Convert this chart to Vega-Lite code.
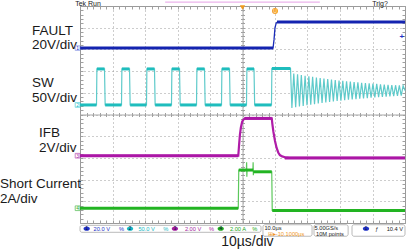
{
"$schema": "https://vega.github.io/schema/vega-lite/v6.json",
"width": 325, "height": 217, "autosize": "none",
"padding": {"left": 80, "top": 6, "right": 1, "bottom": 27},
"background": "white",
"config": {"view": {"stroke": "#9a9a9a", "strokeWidth": 1}},
"datasets": {
"fault": [{"x":0,"y":8.06},{"x":5.94,"y":8.06},{"x":5.97,"y":8.45},{"x":6.0,"y":9.0},{"x":6.04,"y":9.22},{"x":6.08,"y":9.26},{"x":10,"y":9.26}],
"faultFlat": [{"x":0,"x2":5.94,"y":8.06},{"x":6.06,"x2":10,"y":9.26}],
"sw": [{"x":0,"y":5.44},
{"x":0.508,"y":5.44},{"x":0.52,"y":7.10},{"x":0.754,"y":7.10},{"x":0.774,"y":5.44},
{"x":1.277,"y":5.44},{"x":1.289,"y":7.10},{"x":1.523,"y":7.10},{"x":1.543,"y":5.44},
{"x":2.046,"y":5.44},{"x":2.058,"y":7.10},{"x":2.292,"y":7.10},{"x":2.312,"y":5.44},
{"x":2.815,"y":5.44},{"x":2.827,"y":7.10},{"x":3.062,"y":7.10},{"x":3.082,"y":5.44},
{"x":3.585,"y":5.44},{"x":3.597,"y":7.10},{"x":3.831,"y":7.10},{"x":3.851,"y":5.44},
{"x":4.354,"y":5.44},{"x":4.366,"y":7.10},{"x":4.600,"y":7.10},{"x":4.620,"y":5.44},
{"x":5.123,"y":5.44},{"x":5.135,"y":7.10},{"x":5.354,"y":7.10},{"x":5.374,"y":5.44},
{"x":5.892,"y":5.44},{"x":5.904,"y":7.12},{"x":6.477,"y":7.12},
{"x":6.520,"y":5.300},{"x":6.578,"y":6.883},{"x":6.636,"y":5.333},{"x":6.694,"y":6.851},{"x":6.752,"y":5.365},{"x":6.810,"y":6.819},{"x":6.868,"y":5.396},{"x":6.926,"y":6.789},{"x":6.984,"y":5.425},{"x":7.042,"y":6.761},
{"x":7.100,"y":5.453},{"x":7.158,"y":6.733},{"x":7.216,"y":5.480},{"x":7.274,"y":6.707},{"x":7.332,"y":5.506},{"x":7.390,"y":6.682},{"x":7.448,"y":5.530},{"x":7.506,"y":6.658},{"x":7.564,"y":5.554},{"x":7.622,"y":6.634},
{"x":7.680,"y":5.577},{"x":7.738,"y":6.612},{"x":7.796,"y":5.599},{"x":7.854,"y":6.591},{"x":7.912,"y":5.620},{"x":7.970,"y":6.570},{"x":8.028,"y":5.640},{"x":8.086,"y":6.551},{"x":8.144,"y":5.659},{"x":8.202,"y":6.532},
{"x":8.260,"y":5.677},{"x":8.318,"y":6.514},{"x":8.376,"y":5.695},{"x":8.434,"y":6.497},{"x":8.492,"y":5.711},{"x":8.550,"y":6.480},{"x":8.608,"y":5.728},{"x":8.666,"y":6.465},{"x":8.724,"y":5.743},{"x":8.782,"y":6.450},
{"x":8.840,"y":5.758},{"x":8.898,"y":6.435},{"x":8.956,"y":5.772},{"x":9.014,"y":6.421},{"x":9.072,"y":5.785},{"x":9.130,"y":6.408},{"x":9.188,"y":5.798},{"x":9.246,"y":6.395},{"x":9.304,"y":5.811},{"x":9.362,"y":6.383},
{"x":9.420,"y":5.823},{"x":9.478,"y":6.371},{"x":9.536,"y":5.834},{"x":9.594,"y":6.360},{"x":9.652,"y":5.845},{"x":9.710,"y":6.349},{"x":9.768,"y":5.856},{"x":9.826,"y":6.339},{"x":9.884,"y":5.866},{"x":9.942,"y":6.329},{"x":10.0,"y":6.1}],
"swFlat": [{"x":0,"x2":0.508,"y":5.44},{"x":0.774,"x2":1.277,"y":5.44},{"x":1.543,"x2":2.046,"y":5.44},{"x":2.312,"x2":2.815,"y":5.44},{"x":3.082,"x2":3.585,"y":5.44},{"x":3.851,"x2":4.354,"y":5.44},{"x":4.62,"x2":5.123,"y":5.44},{"x":5.374,"x2":5.892,"y":5.44},
{"x":0.52,"x2":0.754,"y":7.10},{"x":1.289,"x2":1.523,"y":7.10},{"x":2.058,"x2":2.292,"y":7.10},{"x":2.827,"x2":3.062,"y":7.10},{"x":3.597,"x2":3.831,"y":7.10},{"x":4.366,"x2":4.6,"y":7.10},{"x":5.135,"x2":5.354,"y":7.10},{"x":5.904,"x2":6.477,"y":7.12}],
"ifb": [{"x":0,"y":3.10},{"x":4.87,"y":3.10},{"x":4.895,"y":3.6},{"x":4.92,"y":4.06},{"x":4.95,"y":4.4},{"x":4.99,"y":4.67},{"x":5.03,"y":4.77},{"x":5.08,"y":4.82},{"x":5.90,"y":4.82},{"x":5.92,"y":4.55},{"x":5.95,"y":4.21},{"x":6.0,"y":3.78},{"x":6.05,"y":3.46},{"x":6.1,"y":3.25},{"x":6.15,"y":3.13},{"x":6.22,"y":3.07},{"x":6.31,"y":3.03},{"x":6.45,"y":3.0},{"x":10,"y":3.0}],
"ifbFlat": [{"x":0,"x2":4.87,"y":3.10},{"x":5.06,"x2":5.90,"y":4.82},{"x":6.3,"x2":10,"y":3.0}],
"cur": [{"x":0,"y":0.68},{"x":4.87,"y":0.68},{"x":4.885,"y":2.44},{"x":5.12,"y":2.44},{"x":5.127,"y":2.80},{"x":5.134,"y":2.13},{"x":5.14,"y":2.44},{"x":5.32,"y":2.44},{"x":5.327,"y":2.80},{"x":5.334,"y":2.20},{"x":5.34,"y":2.36},{"x":5.90,"y":2.36},{"x":5.915,"y":0.58},{"x":10,"y":0.58}],
"curFlat": [{"x":0,"x2":4.87,"y":0.68},{"x":4.885,"x2":5.33,"y":2.44},{"x":5.33,"x2":5.90,"y":2.36},{"x":5.915,"x2":10,"y":0.58}],
"labels": [{"t":"FAULT","x":-1.48,"y":8.66},{"t":"20V/div","x":-1.48,"y":8.0},{"t":"SW","x":-1.48,"y":6.28},{"t":"50V/div","x":-1.48,"y":5.59},{"t":"IFB","x":-1.26,"y":3.98},{"t":"2V/div","x":-1.26,"y":3.29},{"t":"Short Current","x":-2.46,"y":1.60},{"t":"2A/div","x":-2.46,"y":0.91}],
"xlabel": [{"t":"10µs/div","x":5.15,"y":-1.07}],
"chmark": [{"n":"1","ch":"1","x":-0.075,"y":8.06},{"n":"2","ch":"2","x":-0.075,"y":5.44},{"n":"3","ch":"3","x":-0.075,"y":3.10},{"n":"4","ch":"4","x":-0.075,"y":0.68}],
"boxes": [{"x":0,"x2":5.57,"y":-0.106,"y2":-0.429},{"x":5.63,"x2":7.14,"y":-0.08,"y2":-0.61},{"x":7.2,"x2":8.25,"y":-0.08,"y2":-0.61},{"x":8.37,"x2":10.0,"y":-0.08,"y2":-0.61}],
"dots": [{"x":0.206,"y":-0.26,"ch":"1","n":"1"},{"x":1.54,"y":-0.26,"ch":"2","n":"2"},{"x":2.92,"y":-0.26,"ch":"3","n":"3"},{"x":4.33,"y":-0.26,"ch":"4","n":"4"},{"x":8.8,"y":-0.26,"ch":"1","n":"1"}],
"status": [{"t":"20.0 V","x":0.668,"y":-0.26,"ch":"1"},{"t":"%","x":1.28,"y":-0.26,"ch":"1"},{"t":"50.0 V","x":2.05,"y":-0.26,"ch":"2"},{"t":"%","x":2.64,"y":-0.26,"ch":"2"},{"t":"2.00 V","x":3.48,"y":-0.26,"ch":"3"},{"t":"%","x":4.05,"y":-0.26,"ch":"3"},{"t":"2.00 A","x":4.86,"y":-0.26,"ch":"4"},{"t":"%","x":5.38,"y":-0.26,"ch":"4"},
{"t":"10.0µs","x":5.94,"y":-0.23,"ch":"k"},{"t":"⊞▸-10.1000µs","x":6.34,"y":-0.49,"ch":"o"},{"t":"5.00GS/s","x":7.58,"y":-0.23,"ch":"k"},{"t":"10M points","x":7.69,"y":-0.49,"ch":"k"},{"t":"ƒ","x":9.13,"y":-0.26,"ch":"k"},{"t":"10.4 V","x":9.69,"y":-0.26,"ch":"k"}],
"top": [{"t":"Tek Run","x":-0.15,"y":10.0,"ch":"k"},{"t":"Trig?","x":8.99,"y":10.0,"ch":"k"}],
"pink": [{"x":2.62,"x2":7.38,"y":10.18}],
"trig": [{"x":5.0,"y":9.93}],
"umark": [{"x":6.0,"y":9.77,"t":"U"}],
"plus": [{"x":9.9,"y":8.56,"t":"+"}]
},
"resolve": {"axis": {"x": "independent", "y": "independent"}},
"layer": [
{"data": {"name": "fault"}, "mark": {"type": "line", "color": "#1a2cb8", "strokeWidth": 1.3},
 "encoding": {
  "x": {"field": "x", "type": "quantitative", "scale": {"domain": [0, 10], "nice": false, "zero": false},
   "axis": {"orient": "bottom", "tickCount": 50, "tickSize": -3, "tickColor": "#a0a0a0", "domain": false, "labels": false, "title": null, "grid": true, "gridColor": "#9a9a9a", "gridDash": [1, 3], "gridOpacity": {"condition": {"test": "abs(datum.value - round(datum.value)) < 0.01", "value": 1}, "value": 0}, "zindex": 0}},
  "y": {"field": "y", "type": "quantitative", "scale": {"domain": [0, 10], "nice": false, "zero": false},
   "axis": {"orient": "left", "tickCount": 50, "tickSize": -3, "tickColor": "#a0a0a0", "domain": false, "labels": false, "title": null, "grid": true, "gridColor": "#9a9a9a", "gridDash": [1, 3], "gridOpacity": {"condition": {"test": "abs(datum.value - round(datum.value)) < 0.01", "value": 1}, "value": 0}, "zindex": 0}}}},
{"data": {"name": "faultFlat"}, "mark": {"type": "rule", "color": "#1424b0", "strokeWidth": 3},
 "encoding": {
  "x": {"field": "x", "type": "quantitative", "scale": {"domain": [0, 10], "nice": false, "zero": false},
   "axis": {"orient": "top", "tickCount": 50, "tickSize": -3, "tickColor": "#a0a0a0", "domain": false, "labels": false, "title": null, "grid": false, "zindex": 0}},
  "x2": {"field": "x2"},
  "y": {"field": "y", "type": "quantitative", "scale": {"domain": [0, 10], "nice": false, "zero": false},
   "axis": {"orient": "right", "tickCount": 50, "tickSize": -3, "tickColor": "#a0a0a0", "domain": false, "labels": false, "title": null, "grid": false, "zindex": 0}}}},
{"data": {"name": "sw"}, "mark": {"type": "line", "color": "#5ecaca", "strokeWidth": 1.2},
 "encoding": {
  "x": {"field": "x", "type": "quantitative", "scale": {"domain": [0, 10], "nice": false, "zero": false},
   "axis": {"orient": "top", "offset": -108.5, "tickCount": 50, "tickSize": 2, "tickColor": "#a0a0a0", "domain": true, "domainColor": "#a8a8a8", "labels": false, "title": null, "grid": false, "zindex": 0}},
  "y": {"field": "y", "type": "quantitative", "scale": {"domain": [0, 10], "nice": false, "zero": false},
   "axis": {"orient": "left", "offset": -162.5, "tickCount": 50, "tickSize": 2, "tickColor": "#a0a0a0", "domain": true, "domainColor": "#a8a8a8", "labels": false, "title": null, "grid": false, "zindex": 0}}}},
{"data": {"name": "swFlat"}, "mark": {"type": "rule", "color": "#1fbdbd", "strokeWidth": 3},
 "encoding": {
  "x": {"field": "x", "type": "quantitative", "scale": {"domain": [0, 10], "nice": false, "zero": false},
   "axis": {"orient": "bottom", "offset": -108.5, "tickCount": 50, "tickSize": 2, "tickColor": "#a0a0a0", "domain": false, "labels": false, "title": null, "grid": false, "zindex": 0}},
  "x2": {"field": "x2"},
  "y": {"field": "y", "type": "quantitative", "scale": {"domain": [0, 10], "nice": false, "zero": false},
   "axis": {"orient": "right", "offset": -162.5, "tickCount": 50, "tickSize": 2, "tickColor": "#a0a0a0", "domain": false, "labels": false, "title": null, "grid": false, "zindex": 0}}}},
{"data": {"name": "ifb"}, "mark": {"type": "line", "color": "#b01ca8", "strokeWidth": 2.2},
 "encoding": {"x": {"field": "x", "type": "quantitative", "scale": {"domain": [0, 10], "nice": false, "zero": false}, "axis": null},
  "y": {"field": "y", "type": "quantitative", "scale": {"domain": [0, 10], "nice": false, "zero": false}, "axis": null}}},
{"data": {"name": "ifbFlat"}, "mark": {"type": "rule", "color": "#ab16a6", "strokeWidth": 3},
 "encoding": {"x": {"field": "x", "type": "quantitative", "axis": null}, "x2": {"field": "x2"},
  "y": {"field": "y", "type": "quantitative", "axis": null}}},
{"data": {"name": "cur"}, "mark": {"type": "line", "color": "#5cc85c", "strokeWidth": 1.2},
 "encoding": {"x": {"field": "x", "type": "quantitative", "axis": null},
  "y": {"field": "y", "type": "quantitative", "axis": null}}},
{"data": {"name": "curFlat"}, "mark": {"type": "rule", "color": "#22b422", "strokeWidth": 3},
 "encoding": {"x": {"field": "x", "type": "quantitative", "axis": null}, "x2": {"field": "x2"},
  "y": {"field": "y", "type": "quantitative", "axis": null}}},
{"data": {"name": "labels"}, "mark": {"type": "text", "align": "left", "baseline": "alphabetic", "fontSize": 13.5, "font": "Liberation Sans Narrow, Liberation Sans, Arial, sans-serif", "color": "#1a1a1a"},
 "encoding": {"x": {"field": "x", "type": "quantitative", "axis": null}, "y": {"field": "y", "type": "quantitative", "axis": null}, "text": {"field": "t"}}},
{"data": {"name": "xlabel"}, "mark": {"type": "text", "align": "center", "baseline": "alphabetic", "fontSize": 14, "font": "Liberation Sans Narrow, Liberation Sans, Arial, sans-serif", "color": "#1a1a1a"},
 "encoding": {"x": {"field": "x", "type": "quantitative", "axis": null}, "y": {"field": "y", "type": "quantitative", "axis": null}, "text": {"field": "t"}}},
{"data": {"name": "chmark"}, "mark": {"type": "point", "shape": "square", "size": 22, "filled": true, "fill": "white", "strokeWidth": 0.8},
 "encoding": {"x": {"field": "x", "type": "quantitative", "axis": null}, "y": {"field": "y", "type": "quantitative", "axis": null},
  "stroke": {"field": "ch", "type": "nominal", "scale": {"domain": ["1","2","3","4","k","o"], "range": ["#6f7fe0","#1ec4cf","#a51fa0","#21a821","#222222","#f0961e"]}, "legend": null}}},
{"data": {"name": "chmark"}, "mark": {"type": "text", "fontSize": 5, "font": "Liberation Sans", "align": "center", "baseline": "middle"},
 "encoding": {"x": {"field": "x", "type": "quantitative", "axis": null}, "y": {"field": "y", "type": "quantitative", "axis": null}, "text": {"field": "n"},
  "color": {"field": "ch", "type": "nominal", "scale": {"domain": ["1","2","3","4","k","o"], "range": ["#2233c8","#18b8c4","#a51fa0","#21a821","#222222","#f0961e"]}, "legend": null}}},
{"data": {"name": "boxes"}, "mark": {"type": "rect", "fill": "#ffffff", "stroke": "#a8a8a8", "strokeWidth": 0.8, "cornerRadius": 2},
 "encoding": {"x": {"field": "x", "type": "quantitative", "axis": null}, "x2": {"field": "x2"}, "y": {"field": "y", "type": "quantitative", "axis": null}, "y2": {"field": "y2"}}},
{"data": {"name": "dots"}, "mark": {"type": "point", "shape": "M -1 0 A 1 0.7 0 1 0 1 0 A 1 0.7 0 1 0 -1 0 Z", "size": 40, "filled": true, "opacity": 1},
 "encoding": {"x": {"field": "x", "type": "quantitative", "axis": null}, "y": {"field": "y", "type": "quantitative", "axis": null},
  "color": {"field": "ch", "type": "nominal", "scale": {"domain": ["1","2","3","4","k","o"], "range": ["#2233c8","#18b8c4","#a51fa0","#21a821","#222222","#f0961e"]}, "legend": null}}},
{"data": {"name": "dots"}, "mark": {"type": "text", "fontSize": 4.5, "font": "Liberation Sans", "align": "center", "baseline": "middle", "color": "#0a0a40"},
 "encoding": {"x": {"field": "x", "type": "quantitative", "axis": null}, "y": {"field": "y", "type": "quantitative", "axis": null}, "text": {"field": "n"}}},
{"data": {"name": "status"}, "mark": {"type": "text", "fontSize": 5.7, "font": "Liberation Sans", "align": "center", "baseline": "middle"},
 "encoding": {"x": {"field": "x", "type": "quantitative", "axis": null}, "y": {"field": "y", "type": "quantitative", "axis": null}, "text": {"field": "t"},
  "color": {"field": "ch", "type": "nominal", "scale": {"domain": ["1","2","3","4","k","o"], "range": ["#2233c8","#18b8c4","#a51fa0","#21a821","#222222","#f0961e"]}, "legend": null}}},
{"data": {"name": "top"}, "mark": {"type": "text", "fontSize": 7, "font": "Liberation Sans", "align": "left", "baseline": "alphabetic", "color": "#222222"},
 "encoding": {"x": {"field": "x", "type": "quantitative", "axis": null}, "y": {"field": "y", "type": "quantitative", "axis": null}, "text": {"field": "t"}}},
{"data": {"name": "pink"}, "mark": {"type": "rule", "color": "#e6a0e6", "strokeWidth": 1},
 "encoding": {"x": {"field": "x", "type": "quantitative", "axis": null}, "x2": {"field": "x2"}, "y": {"field": "y", "type": "quantitative", "axis": null}}},
{"data": {"name": "trig"}, "mark": {"type": "point", "shape": "triangle-down", "size": 28, "filled": true, "color": "#f29a1e", "opacity": 1},
 "encoding": {"x": {"field": "x", "type": "quantitative", "axis": null}, "y": {"field": "y", "type": "quantitative", "axis": null}}},
{"data": {"name": "umark"}, "mark": {"type": "point", "shape": "circle", "size": 36, "filled": true, "color": "#f5a12a", "opacity": 1},
 "encoding": {"x": {"field": "x", "type": "quantitative", "axis": null}, "y": {"field": "y", "type": "quantitative", "axis": null}}},
{"data": {"name": "umark"}, "mark": {"type": "text", "fontSize": 5, "font": "Liberation Sans", "align": "center", "baseline": "middle", "color": "#fff4d8"},
 "encoding": {"x": {"field": "x", "type": "quantitative", "axis": null}, "y": {"field": "y", "type": "quantitative", "axis": null}, "text": {"field": "t"}}},
{"data": {"name": "plus"}, "mark": {"type": "text", "fontSize": 8, "font": "Liberation Sans", "fontWeight": "bold", "align": "center", "baseline": "middle", "color": "#2233c8"},
 "encoding": {"x": {"field": "x", "type": "quantitative", "axis": null}, "y": {"field": "y", "type": "quantitative", "axis": null}, "text": {"field": "t"}}}
]
}
